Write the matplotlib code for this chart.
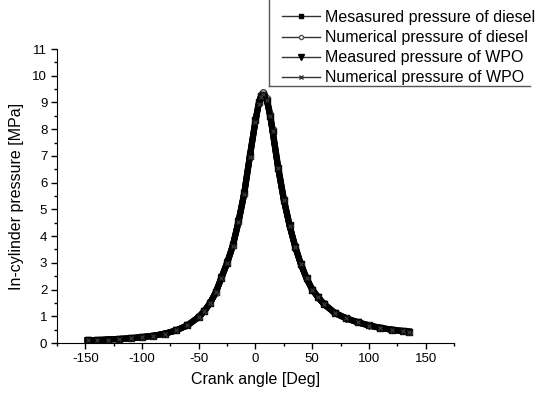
import numpy as np
import matplotlib
matplotlib.use('Agg')
import matplotlib.pyplot as plt
from matplotlib.lines import Line2D
from matplotlib.ticker import MultipleLocator

plt.rcParams['font.family'] = ['Liberation Sans', 'DejaVu Sans']
plt.rcParams['axes.unicode_minus'] = False

# crank angle [deg]
angle = [-148, -140, -130, -120, -110, -100, -90, -80, -70, -60, -50, -45, -40, -35,
         -30, -25, -20, -15, -10, -5, 0, 3, 5, 7, 10, 13, 15, 20, 25, 30, 35, 40,
         45, 50, 55, 60, 70, 80, 90, 100, 110, 120, 130, 135]

# in-cylinder pressure [MPa]
p_diesel_meas = [0.10, 0.11, 0.13, 0.15, 0.18, 0.22, 0.27, 0.35, 0.47, 0.66, 0.98, 1.20, 1.50, 1.90,
                 2.45, 3.00, 3.65, 4.55, 5.60, 7.00, 8.35, 9.00, 9.25, 9.32, 9.10, 8.50, 7.95, 6.55,
                 5.35, 4.40, 3.60, 2.95, 2.42, 2.00, 1.72, 1.47, 1.12, 0.92, 0.78, 0.66, 0.57, 0.50,
                 0.45, 0.43]
p_diesel_num = [0.10, 0.11, 0.13, 0.15, 0.18, 0.22, 0.27, 0.35, 0.47, 0.66, 0.97, 1.19, 1.49, 1.88,
                2.43, 2.98, 3.62, 4.50, 5.55, 6.95, 8.30, 8.98, 9.28, 9.38, 9.15, 8.55, 8.00, 6.60,
                5.40, 4.42, 3.62, 2.96, 2.43, 2.01, 1.73, 1.48, 1.13, 0.93, 0.78, 0.66, 0.57, 0.50,
                0.45, 0.43]
p_wpo_meas = [0.10, 0.11, 0.13, 0.15, 0.18, 0.22, 0.27, 0.35, 0.47, 0.66, 0.98, 1.21, 1.51, 1.91,
              2.47, 3.02, 3.67, 4.57, 5.62, 7.02, 8.33, 8.97, 9.20, 9.27, 9.05, 8.45, 7.90, 6.50,
              5.32, 4.38, 3.58, 2.94, 2.41, 1.99, 1.71, 1.46, 1.11, 0.91, 0.77, 0.65, 0.56, 0.49,
              0.44, 0.42]
p_wpo_num = [0.10, 0.11, 0.13, 0.15, 0.18, 0.22, 0.27, 0.35, 0.47, 0.66, 0.97, 1.20, 1.50, 1.89,
             2.44, 2.99, 3.63, 4.52, 5.57, 6.97, 8.28, 8.95, 9.22, 9.30, 9.08, 8.48, 7.93, 6.53,
             5.34, 4.39, 3.59, 2.95, 2.42, 2.00, 1.72, 1.47, 1.12, 0.92, 0.77, 0.65, 0.56, 0.49,
             0.44, 0.42]

labels = ['Mesasured pressure of diesel', 'Numerical pressure of diesel',
          'Measured pressure of WPO', 'Numerical pressure of WPO']

fig = plt.figure(figsize=(5.39, 3.93), dpi=100)
ax = fig.add_axes([57 / 539, 1 - 343 / 393, (454 - 57) / 539, (343 - 49) / 393])

ax.plot(angle, p_diesel_meas, color='black', lw=4.4, marker='s', ms=4)
ax.plot(angle, p_diesel_num, color='black', lw=4.4, marker='o', ms=4, mfc='white', mec='#444444')
ax.plot(angle, p_wpo_meas, color='black', lw=4.2, marker='v', ms=4)
ax.plot(angle, p_wpo_num, color='black', lw=4.2, marker='x', ms=3.5, mec='#333333')

ax.set_xlim(-175, 175)
ax.set_ylim(0, 11)
ax.xaxis.set_major_locator(MultipleLocator(50))
ax.xaxis.set_minor_locator(MultipleLocator(25))
ax.yaxis.set_major_locator(MultipleLocator(1))
ax.yaxis.set_minor_locator(MultipleLocator(0.5))
ax.spines['top'].set_visible(False)
ax.spines['right'].set_visible(False)
ax.tick_params(which='major', direction='out', length=4, width=1, labelsize=9.5, pad=3)
ax.tick_params(which='minor', direction='out', length=2.5, width=1)
ax.set_xlabel('Crank angle [Deg]', fontsize=11.5, labelpad=5)
ax.set_ylabel('In-cylinder pressure [MPa]', fontsize=11.5, labelpad=6)

# legend, Origin style box that is cut off at the top of the figure
handles = [
    Line2D([], [], color='#333333', lw=1, marker='s', ms=2.5, mfc='black', mec='black'),
    Line2D([], [], color='#333333', lw=1, marker='o', ms=3, mfc='white', mec='#555555'),
    Line2D([], [], color='#333333', lw=1, marker='v', ms=4, mfc='black', mec='black'),
    Line2D([], [], color='#333333', lw=1, marker='x', ms=3, mec='#333333'),
]
fig.legend(handles, labels, loc='upper left', bbox_to_anchor=(282 / 539, 1 - 10 / 393),
           frameon=False, fontsize=11.5, handlelength=2.4, handletextpad=0.3,
           labelspacing=0.32, borderpad=0, borderaxespad=0)
fig.add_artist(Line2D([269 / 539, 269 / 539], [1.0, 1 - 86 / 393], transform=fig.transFigure,
                      color='#555555', lw=1))
fig.add_artist(Line2D([269 / 539, 530 / 539], [1 - 86 / 393, 1 - 86 / 393], transform=fig.transFigure,
                      color='#555555', lw=1))

fig.savefig('out.png', dpi=100)
